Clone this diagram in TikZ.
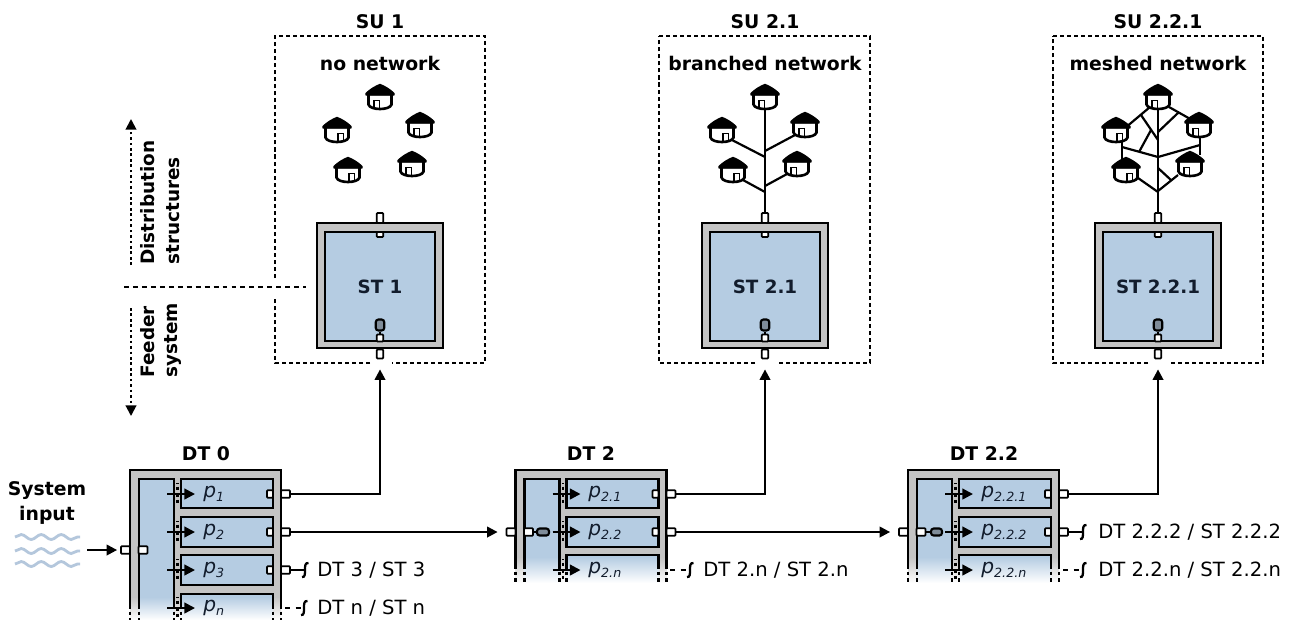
\documentclass[tikz,border=0pt]{standalone}
\usepackage{fontspec}
\setmainfont{DejaVu Sans}
\usetikzlibrary{arrows.meta,decorations.pathmorphing}

\definecolor{tgray}{HTML}{C4C4C4}
\definecolor{tblue}{HTML}{B5CCE2}
\definecolor{twave}{HTML}{B4C7DC}
\definecolor{tdark}{HTML}{7F8C99}
\definecolor{tink}{HTML}{121C2C}

\newcommand{\plab}[1]{\textit{\fontsize{11.5}{12}\selectfont p\raisebox{-2.5pt}{\fontsize{7.2}{8}\selectfont #1}}}

\tikzset{
  >={Triangle[length=6pt,width=6pt]},
  head/.style={font=\fontsize{10.7}{12}\selectfont\bfseries, inner sep=0},
  lbl/.style={font=\fontsize{11.15}{13}\selectfont, inner sep=0, anchor=west},
  side/.style={font=\fontsize{10.5}{12}\selectfont\bfseries, inner sep=0, anchor=west, rotate=90},
  plabel/.style={inner sep=0, anchor=west, text=tink},
  wire/.style={line width=1.25pt},
  tline/.style={line width=1.2pt},
  tdash/.style={line width=1.2pt, dash pattern=on 2pt off 1.8pt, dash phase=1.8pt},
  sudash/.style={line width=1.1pt, dash pattern=on 2.3pt off 1.7pt},
  level/.style={line width=1.1pt, dash pattern=on 2.8pt off 2.3pt},
  updown/.style={line width=1.1pt, dash pattern=on 1.5pt off 1.6pt},
  wave/.style={twave, line width=1.6pt, decorate, decoration={snake, amplitude=.05cm, segment length=.4cm}},
  stouter/.style={draw, tline, fill=tgray, minimum width=2.52cm, minimum height=2.5cm, inner sep=0},
  stinner/.style={draw, tline, fill=tblue, minimum width=2.2cm, minimum height=2.18cm, inner sep=0, text=tink, font=\fontsize{10.4}{12}\selectfont\bfseries},
  pbox/.style={draw, tline, fill=tblue, minimum width=1.84cm, minimum height=.59cm, inner sep=0},
  port/.style={draw, line width=1pt, fill=white, rounded corners=.5pt, minimum width=.18cm, minimum height=.15cm, inner sep=0},
  vport/.style={draw, line width=1pt, fill=white, rounded corners=.5pt, minimum width=.13cm, inner sep=0},
  oval/.style={draw, line width=1.2pt, fill=tdark, rounded corners=1.5pt, inner sep=0},
  pics/hut/.style={code={
    \coordinate (-b) at (0,26);
    \coordinate (-l) at (-10,23);
    \coordinate (-r) at (10,23);
    \draw[line width=1.5pt, fill=white] (-11.5,10) -- (-11.5,20.5) .. controls (-10,26.5) and (10,26.5) .. (11.5,20.5) -- (11.5,10) -- cycle;
    \draw[line width=1.1pt] (#1,25) -- (#1,16.5) -- (#1+5.5,16.5) -- (#1+5.5,25);
    \filldraw[line width=.8pt, line join=round] (0,.5) .. controls (5,2.5) and (10,5.5) .. (14,9.5) -- (14,11) -- (-14,11) -- (-14,9.5) .. controls (-10,5.5) and (-5,2.5) .. (0,.5) -- cycle;
  }},
  pics/stports/.style={code={
    \node[vport, minimum height=.2cm] (-t) at (0,-67.5) {};
    \node[vport, minimum height=.1cm] (-u) at (0,-51) {};
    \node[vport, minimum height=.14cm] (-s) at (0,52.5) {};
    \node[vport, minimum height=.18cm] (-b) at (0,68.5) {};
    \node[oval, minimum width=.17cm, minimum height=.22cm] (-o) at (0,39.5) {};
    \draw[line width=1pt] (-o) -- (-s);
  }},
  pics/dtank/.style n args={4}{code={
    \fill[tgray] (0,0) rectangle (151,#2);
    \shade[top color=tgray, bottom color=white] (0,#2) rectangle (151,#4);
    \fill[tblue] (9,9) rectangle (44,#2);
    \shade[top color=tblue, bottom color=white] (9,#2) rectangle (44,#4);
    \fill[tblue] (51,#1) rectangle (143,#2);
    \shade[top color=tblue, bottom color=white] (51,#2) rectangle (143,#4);
    \draw[tline] (0,#3) -- (0,0) -- (151,0) -- (151,#3);
    \draw[tline] (9,#3) -- (9,9) -- (44,9) -- (44,#3);
    \draw[tline] (51,#3) -- (51,#1) -- (143,#1) -- (143,#3);
    \foreach \x in {0,9,44,51,143,151} \draw[tdash] (\x,#3) -- (\x,#4);
  }},
  pics/feed/.style={code={
    \coordinate (-a) at (-14,0);
    \coordinate (-b) at (14,0);
    \coordinate (-c) at (-3.5,-11);
    \coordinate (-d) at (-3.5,11);
    \draw[tdash] (-c) -- (-d);
    \draw[wire, ->] (-a) -- (-b);
  }},
  pics/brk/.style={code={
    \coordinate (-c) at (0,0);
    \draw[line width=1.3pt] (3.5,-7) .. controls (0,-7.5) and (0,-4) .. (0,0) .. controls (0,4) and (0,7.5) .. (-3,7);
  }},
}

\begin{document}
\begin{tikzpicture}[x=.02cm, y=-.02cm]
  \useasboundingbox (0,0) rectangle (1293,620);

  % titles
  \node[head] (su1t) at (380,22) {SU 1};
  \node[head] (su2t) at (765,22) {SU 2.1};
  \node[head] (su3t) at (1158,22) {SU 2.2.1};
  \node[head] (su1n) at (380,63) {no network};
  \node[head] (su2n) at (765,63) {branched network};
  \node[head] (su3n) at (1158,63) {meshed network};

  % dashed boxes
  \draw[sudash] (275,278) -- (275,36) -- (485,36) -- (485,363) -- (392,363) (370,363) -- (275,363) -- (275,297);
  \draw[sudash] (659,36) -- (870,36) -- (870,363) -- (776,363) (755,363) -- (659,363) -- (659,36);
  \draw[sudash] (1053,36) -- (1263,36) -- (1263,363) -- (1169,363) (1148,363) -- (1053,363) -- (1053,36);

  % left side
  \coordinate (lev1) at (124,287);
  \coordinate (lev2) at (306,287);
  \draw[level] (lev1) -- (lev2);
  \coordinate (up1) at (131,265);
  \coordinate (up2) at (131,119);
  \coordinate (dn1) at (131,308);
  \coordinate (dn2) at (131,416);
  \draw[updown, ->] (up1) -- (up2);
  \draw[updown, ->] (dn1) -- (dn2);
  \node[side] (dist) at (148,265) {Distribution};
  \node[side] (stru) at (173,265) {structures};
  \node[side] (feed) at (148,378) {Feeder};
  \node[side] (syst) at (173,378) {system};

  % ST tanks
  \node[stouter] (st1) at (380,285.5) {};
  \node[stinner] (st1i) at (380,286.5) {ST 1};
  \pic (st1p) at (380,285.5) {stports};
  \node[stouter] (st2) at (765,285.5) {};
  \node[stinner] (st2i) at (765,286.5) {ST 2.1};
  \pic (st2p) at (765,285.5) {stports};
  \node[stouter] (st3) at (1158,285.5) {};
  \node[stinner] (st3i) at (1158,286.5) {ST 2.2.1};
  \pic (st3p) at (1158,285.5) {stports};

  % no network
  \pic (a1) at (380,84) {hut=-6};
  \pic (a2) at (337,117) {hut=1};
  \pic (a3) at (420,112) {hut=-6};
  \pic (a4) at (348,157) {hut=1};
  \pic (a5) at (412,151) {hut=-6};

  % branched network
  \pic (b1) at (765,84) {hut=-6};
  \pic (b2) at (722,117) {hut=1};
  \pic (b3) at (805,112) {hut=-6};
  \pic (b4) at (733,157) {hut=1};
  \pic (b5) at (797,151) {hut=-6};
  \coordinate (j2) at (765,157);
  \coordinate (j3) at (765,151);
  \coordinate (j4) at (765,192);
  \coordinate (j5) at (765,186);
  \draw[wire] (b1-b) -- (st2p-t.north);
  \draw[wire] (b2-r) -- (j2);
  \draw[wire] (b3-l) -- (j3);
  \draw[wire] (b4-r) -- (j4);
  \draw[wire] (b5-l) -- (j5);

  % meshed network
  \coordinate (m1) at (1125,128);
  \coordinate (m2) at (1150,107);
  \coordinate (m3) at (1141,115);
  \coordinate (m4) at (1158,140);
  \coordinate (m5) at (1151,130);
  \coordinate (m6) at (1139,152);
  \coordinate (m7) at (1169,107);
  \coordinate (m8) at (1192,120);
  \coordinate (m9) at (1179,112);
  \coordinate (m10) at (1158,132);
  \coordinate (m11) at (1122,147);
  \coordinate (m12) at (1158,157);
  \coordinate (m13) at (1200,145);
  \coordinate (m14) at (1122,130);
  \coordinate (m15) at (1122,160);
  \coordinate (m16) at (1200,135);
  \coordinate (m17) at (1200,155);
  \coordinate (m18) at (1158,168);
  \coordinate (m19) at (1171,180);
  \coordinate (m20) at (1178,175);
  \coordinate (m21) at (1158,191);
  \coordinate (m22) at (1138,178);
  \coordinate (m23) at (1158,192);
  \coordinate (m24) at (1158,100);
  \draw[wire] (m24) -- (st3p-t.north);
  \draw[wire] (m1) -- (m2);
  \draw[wire] (m3) -- (m4);
  \draw[wire] (m5) -- (m6);
  \draw[wire] (m7) -- (m8);
  \draw[wire] (m9) -- (m10);
  \draw[wire] (m11) -- (m12) -- (m13);
  \draw[wire] (m14) -- (m15);
  \draw[wire] (m16) -- (m17);
  \draw[wire] (m18) -- (m19);
  \draw[wire] (m20) -- (m21);
  \draw[wire] (m22) -- (m23);
  \pic (c1) at (1158,84) {hut=-6};
  \pic (c2) at (1116,117) {hut=1};
  \pic (c3) at (1199,112) {hut=-6};
  \pic (c4) at (1126,157) {hut=1};
  \pic (c5) at (1190,151) {hut=-6};

  % system input
  \node[head] (sys1) at (47,491) {System};
  \node[head] (sys2) at (47,515) {input};
  \coordinate (w1a) at (15,537);
  \coordinate (w1b) at (80,537);
  \coordinate (w2a) at (15,551);
  \coordinate (w2b) at (80,551);
  \coordinate (w3a) at (15,564);
  \coordinate (w3b) at (80,564);
  \draw[wave] (w1a) -- (w1b);
  \draw[wave] (w2a) -- (w2b);
  \draw[wave] (w3a) -- (w3b);
  \coordinate (inw) at (87,550);

  % DT 0
  \node[head] (dt0t) at (206,454) {DT 0};
  \pic (dt0) at (130,470) {dtank={124}{127}{138}{150}};
  \node[pbox] (p1) at (227,493.5) {};
  \node[pbox] (p2) at (227,532) {};
  \node[pbox] (p3) at (227,570) {};
  \node[plabel] (p1l) at (203,494) {\plab{1}};
  \node[plabel] (p2l) at (203,532) {\plab{2}};
  \node[plabel] (p3l) at (203,570) {\plab{3}};
  \node[plabel] (pnl) at (203,608) {\plab{n}};
  \pic (f1) at (181,494) {feed};
  \pic (f2) at (181,532) {feed};
  \pic (f3) at (181,570) {feed};
  \pic (f4) at (181,608) {feed};
  \node[port] (i0a) at (125.5,550) {};
  \node[port] (i0b) at (143,550) {};
  \draw[wire, ->, shorten >=.06cm] (inw) -- (i0a.west);
  \node[port, minimum width=.12cm] (p1i) at (270,494) {};
  \node[port, minimum width=.12cm] (p2i) at (270,532) {};
  \node[port, minimum width=.12cm] (p3i) at (270,570) {};
  \node[port] (p1o) at (285.5,494) {};
  \node[port] (p2o) at (285.5,532) {};
  \node[port] (p3o) at (285.5,570) {};

  % DT 2
  \node[head] (dt2t) at (591,454) {DT 2};
  \pic (dt2) at (515.5,470) {dtank={85}{87}{98}{113}};
  \node[pbox] (q1) at (612.5,493.5) {};
  \node[pbox] (q2) at (612.5,532) {};
  \node[plabel] (q1l) at (588,494) {\plab{2.1}};
  \node[plabel] (q2l) at (588,532) {\plab{2.2}};
  \node[plabel] (qnl) at (588,570) {\plab{2.n}};
  \pic (g1) at (566.5,494) {feed};
  \pic (g2) at (566.5,532) {feed};
  \pic (g3) at (566.5,570) {feed};
  \node[port] (i2a) at (511,532) {};
  \node[port] (i2b) at (528.5,532) {};
  \node[oval, minimum width=.24cm, minimum height=.14cm] (i2c) at (543,532) {};
  \draw[line width=1pt] (i2b) -- (i2c);
  \node[port, minimum width=.12cm] (q1i) at (655.5,494) {};
  \node[port, minimum width=.12cm] (q2i) at (655.5,532) {};
  \node[port] (q1o) at (671,494) {};
  \node[port] (q2o) at (671,532) {};

  % DT 2.2
  \node[head] (dt3t) at (984,454) {DT 2.2};
  \pic (dt3) at (908,470) {dtank={85}{87}{98}{113}};
  \node[pbox] (r1) at (1005,493.5) {};
  \node[pbox] (r2) at (1005,532) {};
  \node[plabel] (r1l) at (981,494) {\plab{2.2.1}};
  \node[plabel] (r2l) at (981,532) {\plab{2.2.2}};
  \node[plabel] (rnl) at (981,570) {\plab{2.2.n}};
  \pic (k1) at (959,494) {feed};
  \pic (k2) at (959,532) {feed};
  \pic (k3) at (959,570) {feed};
  \node[port] (i3a) at (903.5,532) {};
  \node[port] (i3b) at (921,532) {};
  \node[oval, minimum width=.22cm, minimum height=.14cm] (i3c) at (936.5,532) {};
  \draw[line width=1pt] (i3b) -- (i3c);
  \node[port, minimum width=.12cm] (r1i) at (1048,494) {};
  \node[port, minimum width=.12cm] (r2i) at (1048,532) {};
  \node[port] (r1o) at (1063.5,494) {};
  \node[port] (r2o) at (1063.5,532) {};

  % wires
  \draw[wire, ->, shorten >=.2cm] (p1o.east) -| (st1p-b.south);
  \draw[wire, ->, shorten >=.2cm] (q1o.east) -| (st2p-b.south);
  \draw[wire, ->, shorten >=.2cm] (r1o.east) -| (st3p-b.south);
  \draw[wire, ->, shorten >=.16cm] (p2o.east) -- (i2a.west);
  \draw[wire, ->, shorten >=.16cm] (q2o.east) -- (i3a.west);

  % open ends
  \pic (e1) at (305,570) {brk};
  \draw[wire] (p3o.east) -- (e1-c);
  \node[lbl] (e1t) at (317,570) {DT 3 / ST 3};
  \coordinate (e2s) at (285,608);
  \pic (e2) at (304,608) {brk};
  \draw[wire, dashed] (e2s) -- (e2-c);
  \node[lbl] (e2t) at (317,608) {DT n / ST n};
  \coordinate (e3s) at (670,570);
  \pic (e3) at (690,570) {brk};
  \draw[wire, dashed] (e3s) -- (e3-c);
  \node[lbl] (e3t) at (703,570) {DT 2.n / ST 2.n};
  \pic (e4) at (1083,532) {brk};
  \draw[wire] (r2o.east) -- (e4-c);
  \node[lbl] (e4t) at (1098,532) {DT 2.2.2 / ST 2.2.2};
  \coordinate (e5s) at (1063,570);
  \pic (e5) at (1083,570) {brk};
  \draw[wire, dashed] (e5s) -- (e5-c);
  \node[lbl] (e5t) at (1098,570) {DT 2.2.n / ST 2.2.n};
\end{tikzpicture}
\end{document}
